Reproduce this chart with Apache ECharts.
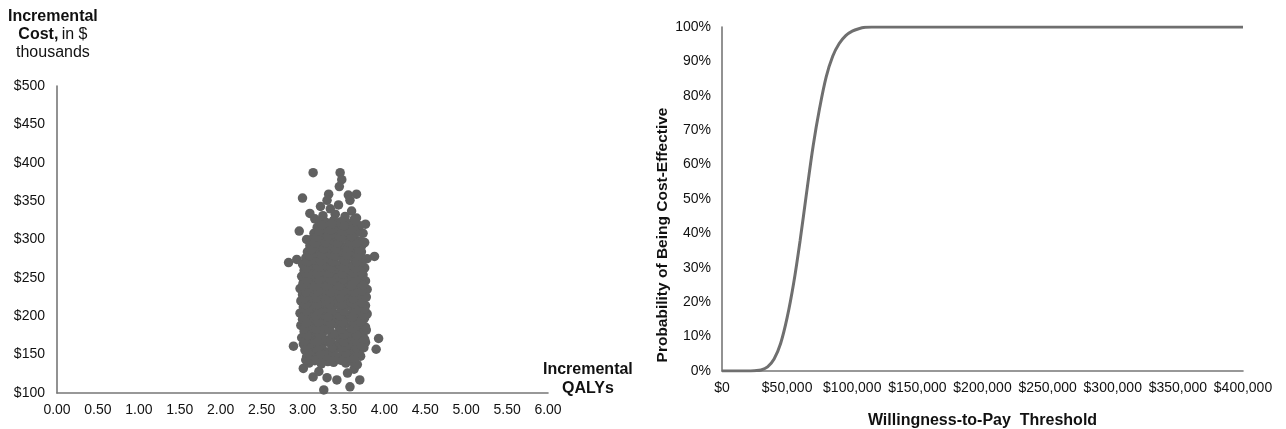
<!DOCTYPE html>
<html>
<head>
<meta charset="utf-8">
<script src="https://cdn.jsdelivr.net/npm/echarts@6/dist/echarts.min.js"></script>
<style>
  html, body { margin: 0; padding: 0; background: #ffffff; }
  #chart { width: 1286px; height: 429px; }
</style>
</head>
<body>
<div id="chart"></div>
<script>
// Probabilistic sensitivity analysis: incremental QALYs vs incremental cost ($ thousands)
const psaDraws = [
  // sparse upper tail
  [3.13, 387], [3.46, 387], [3.48, 378], [3.45, 369], [3.00, 354], [3.32, 359], [3.30, 351],
  [3.56, 358], [3.66, 359], [3.58, 351], [3.22, 343], [3.09, 334], [3.60, 337], [3.66, 328],
  [2.96, 311], [3.77, 320], [3.74, 308], [3.25, 331], [3.40, 333], [3.52, 330], [3.15, 327],
  [3.34, 340], [3.44, 345], [3.70, 318], [3.05, 300], [3.76, 296],
  // side outliers
  [2.83, 270], [2.93, 274], [3.88, 278], [3.79, 275], [2.89, 161], [3.93, 171], [3.90, 157],
  // sparse lower tail
  [3.26, 104], [3.58, 108], [3.13, 121], [3.01, 132], [3.70, 117], [3.42, 117], [3.30, 120],
  [3.55, 126], [3.20, 128], [3.63, 131],
  // main body
  [3.08, 139], [3.15, 142], [3.23, 138], [3.31, 141], [3.38, 140], [3.46, 143], [3.53, 139], [3.61, 141], [3.67, 137],
  [3.05, 147], [3.12, 149], [3.20, 146], [3.28, 148], [3.35, 150], [3.43, 147], [3.50, 149], [3.58, 146], [3.65, 150], [3.71, 148],
  [3.03, 156], [3.10, 154], [3.18, 157], [3.26, 155], [3.33, 153], [3.41, 158], [3.49, 155], [3.56, 157], [3.63, 154], [3.70, 156], [3.75, 159],
  [3.01, 164], [3.09, 162], [3.16, 165], [3.24, 163], [3.32, 166], [3.39, 162], [3.47, 164], [3.54, 161], [3.62, 165], [3.69, 163], [3.77, 166],
  [2.99, 172], [3.07, 170], [3.14, 173], [3.22, 171], [3.30, 169], [3.37, 174], [3.45, 171], [3.52, 173], [3.60, 170], [3.67, 172], [3.74, 174],
  [3.02, 180], [3.10, 178], [3.17, 181], [3.25, 179], [3.33, 182], [3.40, 177], [3.48, 180], [3.55, 178], [3.63, 181], [3.70, 179], [3.78, 182],
  [2.98, 188], [3.06, 186], [3.13, 189], [3.21, 187], [3.29, 185], [3.36, 190], [3.44, 187], [3.51, 189], [3.59, 186], [3.66, 188], [3.73, 190],
  [3.00, 196], [3.08, 194], [3.15, 197], [3.23, 195], [3.31, 193], [3.38, 198], [3.46, 195], [3.53, 197], [3.61, 194], [3.68, 196], [3.76, 198],
  [2.97, 204], [3.05, 202], [3.12, 205], [3.20, 203], [3.27, 201], [3.35, 206], [3.43, 203], [3.50, 205], [3.58, 202], [3.65, 204], [3.72, 206], [3.79, 203],
  [3.01, 212], [3.09, 210], [3.16, 213], [3.24, 211], [3.32, 209], [3.39, 214], [3.47, 211], [3.54, 213], [3.62, 210], [3.69, 212], [3.77, 214],
  [2.98, 220], [3.06, 218], [3.14, 221], [3.21, 219], [3.29, 217], [3.37, 222], [3.44, 219], [3.52, 221], [3.59, 218], [3.67, 220], [3.74, 222],
  [3.00, 228], [3.08, 226], [3.15, 229], [3.23, 227], [3.31, 225], [3.38, 230], [3.46, 227], [3.53, 229], [3.61, 226], [3.68, 228], [3.76, 230],
  [2.97, 236], [3.04, 234], [3.12, 237], [3.19, 235], [3.27, 233], [3.35, 238], [3.42, 235], [3.50, 237], [3.57, 234], [3.65, 236], [3.72, 238], [3.79, 235],
  [3.01, 244], [3.09, 242], [3.17, 245], [3.24, 243], [3.32, 241], [3.40, 246], [3.47, 243], [3.55, 245], [3.62, 242], [3.70, 244], [3.77, 246],
  [2.99, 252], [3.07, 250], [3.14, 253], [3.22, 251], [3.30, 249], [3.37, 254], [3.45, 251], [3.52, 253], [3.60, 250], [3.67, 252], [3.74, 254],
  [3.02, 260], [3.10, 258], [3.18, 261], [3.25, 259], [3.33, 257], [3.41, 262], [3.48, 259], [3.56, 261], [3.63, 258], [3.71, 260], [3.76, 263],
  [3.00, 268], [3.08, 266], [3.16, 269], [3.23, 267], [3.31, 265], [3.38, 270], [3.46, 267], [3.53, 269], [3.61, 266], [3.68, 268], [3.73, 271],
  [3.04, 276], [3.12, 274], [3.19, 277], [3.27, 275], [3.35, 273], [3.42, 278], [3.50, 275], [3.57, 277], [3.65, 274], [3.71, 276],
  [3.06, 284], [3.14, 282], [3.21, 285], [3.29, 283], [3.36, 281], [3.44, 286], [3.51, 283], [3.59, 285], [3.66, 282], [3.72, 284],
  [3.09, 292], [3.16, 290], [3.24, 293], [3.31, 291], [3.39, 289], [3.46, 294], [3.54, 291], [3.61, 293], [3.68, 290], [3.73, 293],
  [3.11, 300], [3.19, 298], [3.26, 301], [3.34, 299], [3.41, 297], [3.49, 302], [3.56, 299], [3.63, 301], [3.70, 298],
  [3.14, 308], [3.22, 306], [3.29, 309], [3.37, 307], [3.44, 305], [3.52, 310], [3.59, 307], [3.66, 309],
  [3.18, 316], [3.26, 314], [3.33, 317], [3.41, 315], [3.48, 313], [3.56, 318], [3.62, 315],
  [3.21, 324], [3.29, 322], [3.38, 325], [3.47, 323], [3.55, 321], [3.63, 326],
  // draws falling between the rows above
  [3.04, 143], [3.19, 144], [3.34, 145], [3.49, 142], [3.63, 145],
  [3.07, 152], [3.22, 151], [3.37, 153], [3.53, 152], [3.68, 152],
  [3.05, 160], [3.20, 160], [3.36, 159], [3.51, 160], [3.66, 159], [3.73, 161],
  [3.03, 168], [3.18, 167], [3.34, 168], [3.50, 167], [3.65, 168], [3.76, 170],
  [3.06, 175], [3.21, 176], [3.36, 177], [3.51, 176], [3.66, 176],
  [3.02, 184], [3.17, 183], [3.32, 184], [3.47, 183], [3.62, 184], [3.77, 186],
  [3.04, 191], [3.19, 192], [3.34, 191], [3.49, 192], [3.64, 191], [3.71, 193],
  [3.01, 199], [3.16, 200], [3.31, 199], [3.46, 200], [3.61, 199], [3.74, 201],
  [3.05, 207], [3.20, 207], [3.35, 208], [3.50, 207], [3.65, 208], [3.76, 209],
  [3.03, 215], [3.18, 215], [3.33, 216], [3.48, 215], [3.63, 216], [3.73, 217],
  [3.02, 223], [3.17, 224], [3.32, 223], [3.47, 224], [3.62, 223], [3.78, 225],
  [3.04, 231], [3.19, 232], [3.34, 231], [3.49, 232], [3.64, 231], [3.73, 233],
  [3.00, 240], [3.15, 239], [3.30, 240], [3.45, 239], [3.60, 240], [3.74, 241],
  [3.05, 247], [3.20, 248], [3.35, 247], [3.50, 248], [3.65, 247],
  [3.03, 256], [3.18, 255], [3.33, 256], [3.48, 255], [3.63, 256], [3.72, 257],
  [3.05, 263], [3.20, 264], [3.35, 263], [3.50, 264], [3.65, 263],
  [3.07, 271], [3.22, 272], [3.37, 271], [3.52, 272], [3.66, 271],
  [3.09, 279], [3.24, 280], [3.39, 279], [3.54, 280], [3.68, 279],
  [3.11, 287], [3.26, 288], [3.41, 287], [3.56, 288], [3.69, 287],
  [3.14, 295], [3.28, 296], [3.43, 295], [3.58, 296], [3.66, 295],
  [3.17, 303], [3.31, 304], [3.46, 303], [3.60, 304],
  [3.20, 311], [3.34, 312], [3.49, 311], [3.59, 312],
  [3.24, 319], [3.36, 320], [3.51, 318]
];

// Axis ticks for the scatter plane
const qalyTicks = [0, 0.5, 1, 1.5, 2, 2.5, 3, 3.5, 4, 4.5, 5, 5.5, 6];
const costTicks = [100, 150, 200, 250, 300, 350, 400, 450, 500];

// Cost-effectiveness acceptability curve
const wtpThresholds = [0, 5000, 10000, 15000, 20000, 25000, 30000, 35000, 40000, 45000, 50000,
  55000, 60000, 65000, 70000, 75000, 80000, 85000, 90000, 95000, 100000, 105000, 110000,
  115000, 120000, 150000, 200000, 250000, 300000, 350000, 400000];
const probCostEffective = [0, 0, 0, 0, 0, 0.001, 0.003, 0.012, 0.035, 0.08, 0.155,
  0.255, 0.38, 0.52, 0.655, 0.765, 0.855, 0.915, 0.952, 0.975, 0.988, 0.995, 0.999,
  1, 1, 1, 1, 1, 1, 1, 1];
const wtpTicks = [0, 50000, 100000, 150000, 200000, 250000, 300000, 350000, 400000];
const probTicks = [0, 0.1, 0.2, 0.3, 0.4, 0.5, 0.6, 0.7, 0.8, 0.9, 1];

const FONT = '"Liberation Sans", Arial, Helvetica, sans-serif';
const TEXT = '#111111';
const AXIS = '#777777';

const axisLine = { show: true, lineStyle: { color: AXIS, width: 1.6 } };
const tickFont = { color: TEXT, fontFamily: FONT, fontSize: 14 };

const chart = echarts.init(document.getElementById('chart'), null, { renderer: 'canvas' });

chart.setOption({
  backgroundColor: '#ffffff',
  animation: false,
  grid: [
    { left: 57, top: 86, width: 491, height: 307, outerBoundsMode: 'none', containLabel: false },
    { left: 722, top: 27, width: 521, height: 344, outerBoundsMode: 'none', containLabel: false }
  ],
  xAxis: [
    {
      gridIndex: 0, type: 'value',
      min: qalyTicks[0], max: qalyTicks[qalyTicks.length - 1], interval: 0.5,
      axisLine, axisTick: { show: false }, splitLine: { show: false },
      axisLabel: { ...tickFont, margin: 10, formatter: v => v.toFixed(2) }
    },
    {
      gridIndex: 1, type: 'value',
      min: wtpTicks[0], max: wtpTicks[wtpTicks.length - 1], interval: 50000,
      axisLine, axisTick: { show: false }, splitLine: { show: false },
      axisLabel: { ...tickFont, margin: 10, formatter: v => '$' + v.toLocaleString('en-US') },
      name: 'Willingness-to-Pay  Threshold',
      nameLocation: 'middle', nameGap: 42,
      nameTextStyle: { color: TEXT, fontFamily: FONT, fontSize: 16, fontWeight: 'bold' }
    }
  ],
  yAxis: [
    {
      gridIndex: 0, type: 'value',
      min: costTicks[0], max: costTicks[costTicks.length - 1], interval: 50,
      axisLine, axisTick: { show: false }, splitLine: { show: false },
      axisLabel: { ...tickFont, margin: 12, formatter: v => '$' + v }
    },
    {
      gridIndex: 1, type: 'value',
      min: probTicks[0], max: probTicks[probTicks.length - 1], interval: 0.1,
      axisLine, axisTick: { show: false }, splitLine: { show: false },
      axisLabel: { ...tickFont, margin: 11, formatter: v => Math.round(v * 100) + '%' },
      name: 'Probability of Being Cost-Effective',
      nameLocation: 'middle', nameGap: 51,
      nameTextStyle: { color: TEXT, fontFamily: FONT, fontSize: 15.5, fontWeight: 'bold', padding: [0, 72, 0, 0] }
    }
  ],
  graphic: [
    {
      type: 'text', left: 8, top: 9,
      style: {
        text: '{b|Incremental}\n{b|Cost,} {n|in $}\n{n|thousands}',
        align: 'center',
        rich: {
          b: { fontFamily: FONT, fontSize: 16, fontWeight: 'bold', fill: TEXT, lineHeight: 18, align: 'center' },
          n: { fontFamily: FONT, fontSize: 16, fontWeight: 'normal', fill: TEXT, lineHeight: 18, align: 'center' }
        }
      }
    },
    {
      type: 'text', left: 543, top: 362,
      style: {
        text: '{b|Incremental}\n{b|QALYs}',
        align: 'center',
        rich: {
          b: { fontFamily: FONT, fontSize: 16, fontWeight: 'bold', fill: TEXT, lineHeight: 19, align: 'center' }
        }
      }
    }
  ],
  series: [
    {
      type: 'scatter', xAxisIndex: 0, yAxisIndex: 0,
      data: psaDraws,
      symbolSize: 9.5,
      itemStyle: { color: '#606060', opacity: 1 }
    },
    {
      type: 'line', xAxisIndex: 1, yAxisIndex: 1,
      data: wtpThresholds.map((w, i) => [w, probCostEffective[i]]),
      showSymbol: false, smooth: 0.35,
      lineStyle: { color: '#6f6f6f', width: 3 }
    }
  ]
});
</script>
</body>
</html>
